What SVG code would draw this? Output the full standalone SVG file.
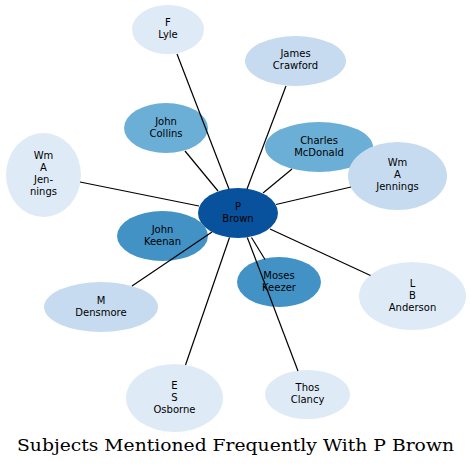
<svg xmlns="http://www.w3.org/2000/svg" width="472" height="467" viewBox="0 0 472 467">
<style>
text{font-family:"DejaVu Sans","Liberation Sans",sans-serif;font-size:10px;fill:#000;text-anchor:middle}
.t{font-family:"DejaVu Serif","Liberation Serif",serif;font-size:17.5px}
.c1{fill:#deebf7}.c2{fill:#c6dbef}.c3{fill:#6baed6}.c4{fill:#4292c6}.c5{fill:#08519c}
#edges line{stroke:#000;stroke-width:1.2}
</style>
<rect width="472" height="467" fill="#fff"/>
<g id="n-lyle"><ellipse class="c1" cx="168" cy="29.5" rx="36" ry="24.5"/><text x="168" y="25.5">F</text><text x="168" y="37.5">Lyle</text></g>
<g id="n-crawford"><ellipse class="c2" cx="295.5" cy="61" rx="50.5" ry="25"/><text x="295.5" y="57">James</text><text x="295.5" y="69">Crawford</text></g>
<g id="n-collins"><ellipse class="c3" cx="166" cy="128" rx="42" ry="25"/><text x="166" y="124.5">John</text><text x="166" y="136.5">Collins</text></g>
<g id="n-mcdonald"><ellipse class="c3" cx="319" cy="147" rx="54" ry="25"/><text x="319" y="143.5">Charles</text><text x="319" y="155.5">McDonald</text></g>
<g id="n-jennings-r"><ellipse class="c2" cx="397.5" cy="176" rx="49.5" ry="34"/><text x="397.5" y="166">Wm</text><text x="397.5" y="178">A</text><text x="397.5" y="190">Jennings</text></g>
<g id="n-jennings-l"><ellipse class="c1" cx="43.5" cy="175" rx="37.5" ry="42"/><text x="43.5" y="159">Wm</text><text x="43.5" y="171">A</text><text x="43.5" y="183">Jen-</text><text x="43.5" y="195">nings</text></g>
<g id="n-keenan"><ellipse class="c4" cx="162.5" cy="236" rx="45.5" ry="25"/><text x="162.5" y="232.5">John</text><text x="162.5" y="244.5">Keenan</text></g>
<g id="n-brown"><ellipse class="c5" cx="238" cy="213" rx="40" ry="25"/><text x="238" y="209.5">P</text><text x="238" y="221.5">Brown</text></g>
<g id="n-densmore"><ellipse class="c2" cx="101" cy="307" rx="57" ry="25"/><text x="101" y="303.5">M</text><text x="101" y="315.5">Densmore</text></g>
<g id="n-keezer"><ellipse class="c4" cx="279" cy="282" rx="42" ry="25"/><text x="279" y="278.5">Moses</text><text x="279" y="290.5">Keezer</text></g>
<g id="n-anderson"><ellipse class="c1" cx="412.5" cy="296" rx="53.5" ry="34"/><text x="412.5" y="286.5">L</text><text x="412.5" y="298.5">B</text><text x="412.5" y="310.5">Anderson</text></g>
<g id="n-osborne"><ellipse class="c1" cx="174.5" cy="398" rx="48.5" ry="34"/><text x="174.5" y="388.5">E</text><text x="174.5" y="400.5">S</text><text x="174.5" y="412.5">Osborne</text></g>
<g id="n-clancy"><ellipse class="c1" cx="307.5" cy="394.5" rx="42.5" ry="24.5"/><text x="307.5" y="391">Thos</text><text x="307.5" y="403">Clancy</text></g>
<g id="edges">
<line x1="177" y1="54" x2="229" y2="189"/>
<line x1="286" y1="86" x2="247" y2="189"/>
<line x1="185" y1="151" x2="218" y2="191"/>
<line x1="292" y1="169" x2="263" y2="193"/>
<line x1="351" y1="187" x2="276" y2="204.5"/>
<line x1="80" y1="182" x2="199" y2="206"/>
<line x1="132" y1="286" x2="212" y2="232"/>
<line x1="185.5" y1="365" x2="229.5" y2="237.5"/>
<line x1="251.5" y1="237.5" x2="265" y2="259.5"/>
<line x1="247.3" y1="237.5" x2="298" y2="371"/>
<line x1="270" y1="229" x2="370.5" y2="275.5"/>
</g>
<text class="t" x="235.5" y="451" textLength="437" lengthAdjust="spacingAndGlyphs">Subjects Mentioned Frequently With P Brown</text>
</svg>
